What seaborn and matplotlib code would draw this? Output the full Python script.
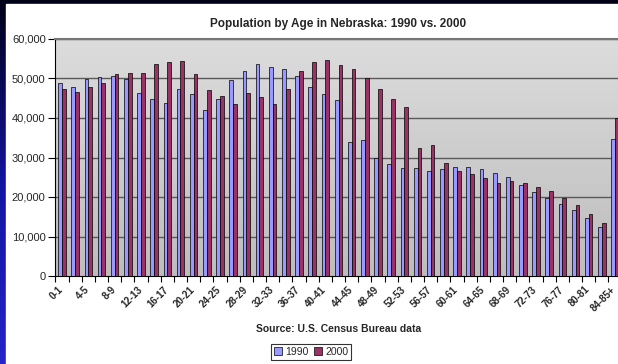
import numpy as np
import pandas as pd
import matplotlib
matplotlib.use('Agg')
import matplotlib.pyplot as plt
import seaborn as sns
from matplotlib.colors import LinearSegmentedColormap
from matplotlib.patches import Rectangle
from matplotlib.ticker import FuncFormatter
from matplotlib.transforms import ScaledTranslation

# age groups (two-year bins)
ages = ['%d-%d' % (a, a + 1) for a in range(0, 84, 2)] + ['84-85+']

pop_1990 = [48800, 47900, 49800, 50300, 50600, 49800, 46300, 44700, 43800, 47300,
            46000, 42000, 44700, 49600, 51900, 53600, 52900, 52400, 50600, 47800,
            46000, 44600, 33800, 34400, 30000, 28300, 27300, 27300, 26500, 27000,
            27500, 27500, 27000, 26000, 25000, 23000, 21200, 19700, 18200, 16700,
            14700, 12400, 34700]
pop_2000 = [47300, 46500, 47900, 48800, 51100, 51500, 51400, 53600, 54200, 54400,
            51100, 47000, 45600, 43500, 46300, 45300, 43500, 47300, 51900, 54200,
            54700, 53400, 52400, 50100, 47300, 44700, 42700, 32500, 33100, 28600,
            26500, 25800, 24700, 23600, 24000, 23500, 22500, 21400, 19700, 18100,
            15700, 13400, 39900]
years = ['1990', '2000']
colors = ['#9999ff', '#993366']

df = pd.DataFrame({
    'age': ages * 2,
    'year': [years[0]] * len(ages) + [years[1]] * len(ages),
    'pop': pop_1990 + pop_2000,
})

sns.set_style('white')
plt.rcParams['font.family'] = ['Liberation Sans', 'DejaVu Sans']

W, H = 618, 364
fig = plt.figure(figsize=(W / 100, H / 100), dpi=100)

# slide-like background: dark navy border, white chart area
bg = fig.add_axes([0, 0, 1, 1], zorder=-10)
bg.set_axis_off()
navy = LinearSegmentedColormap.from_list('navy', ['#000018', '#1414a0', '#2424c8'])
bg.imshow(np.linspace(0, 1, 100).reshape(-1, 1), cmap=navy, aspect='auto',
          extent=[0, 1, 0, 1])
bg.add_patch(Rectangle((6 / W, 0), 1, 1 - 4 / H, color='white', zorder=2))
bg.set_xlim(0, 1)
bg.set_ylim(0, 1)

left, right, top, bottom = 55.4, 621.6, 39, 276
ax = fig.add_axes([left / W, 1 - bottom / H, (right - left) / W, (bottom - top) / H])

# gray gradient plot area
grey = LinearSegmentedColormap.from_list('grey', ['#bdbdbd', '#dcdcdc'])
ax.imshow(np.linspace(0, 1, 100).reshape(-1, 1), cmap=grey, aspect='auto',
          extent=[-0.5, len(ages) - 0.5, 0, 60000], origin='lower', zorder=0)

for v in range(10000, 60001, 10000):
    ax.axhline(v, color='#5a5a5a', lw=1, zorder=1)

sns.barplot(data=df, x='age', y='pop', hue='year', palette=colors, width=0.56,
            edgecolor='black', linewidth=0.5, saturation=1, ax=ax, zorder=3)
h, l = ax.get_legend_handles_labels()
ax.legend_.remove()

ax.set_xlim(-0.5, len(ages) - 0.5)
ax.set_ylim(0, 60000)
ax.set_yticks(range(0, 60001, 10000))
ax.yaxis.set_major_formatter(FuncFormatter(lambda v, p: '{:,.0f}'.format(v)))
ax.tick_params(axis='y', length=5, width=0.8, color='black', labelsize=8, pad=2, left=True)

ax.set_xticks(range(0, len(ages), 2))
ax.set_xticklabels(ages[::2], rotation=45, ha='right', va='top',
                   rotation_mode='anchor', fontsize=7, fontweight='bold')
ax.set_xticks(np.arange(-0.5, len(ages), 1), minor=True)
ax.tick_params(axis='x', which='major', length=0, pad=6)
ax.tick_params(axis='x', which='minor', length=4, width=0.8, color='black', bottom=True)
shift = ScaledTranslation(-4 / 100, 0, fig.dpi_scale_trans)
for t in ax.get_xticklabels():
    t.set_transform(t.get_transform() + shift)

ax.spines['right'].set_visible(False)
ax.spines['top'].set_color('#777777')
ax.spines['top'].set_linewidth(1.5)
ax.spines['left'].set_color('black')
ax.spines['bottom'].set_color('black')
ax.spines['left'].set_linewidth(0.8)
ax.spines['bottom'].set_linewidth(0.8)

ax.set_ylabel('')
ax.set_xlabel('Source: U.S. Census Bureau data', fontsize=7.5, fontweight='bold', labelpad=8)
ax.set_title('Population by Age in Nebraska: 1990 vs. 2000', fontsize=8.5,
             fontweight='bold', pad=9)

leg = fig.legend(h, l, loc='center', bbox_to_anchor=(311 / W, 1 - 352 / H), ncol=2,
                 fontsize=7.5, frameon=True, fancybox=False, edgecolor='black',
                 handlelength=0.8, handleheight=0.8, handletextpad=0.3,
                 columnspacing=0.5, borderpad=0.3)
leg.get_frame().set_linewidth(0.8)

fig.savefig('out.png', dpi=100)
